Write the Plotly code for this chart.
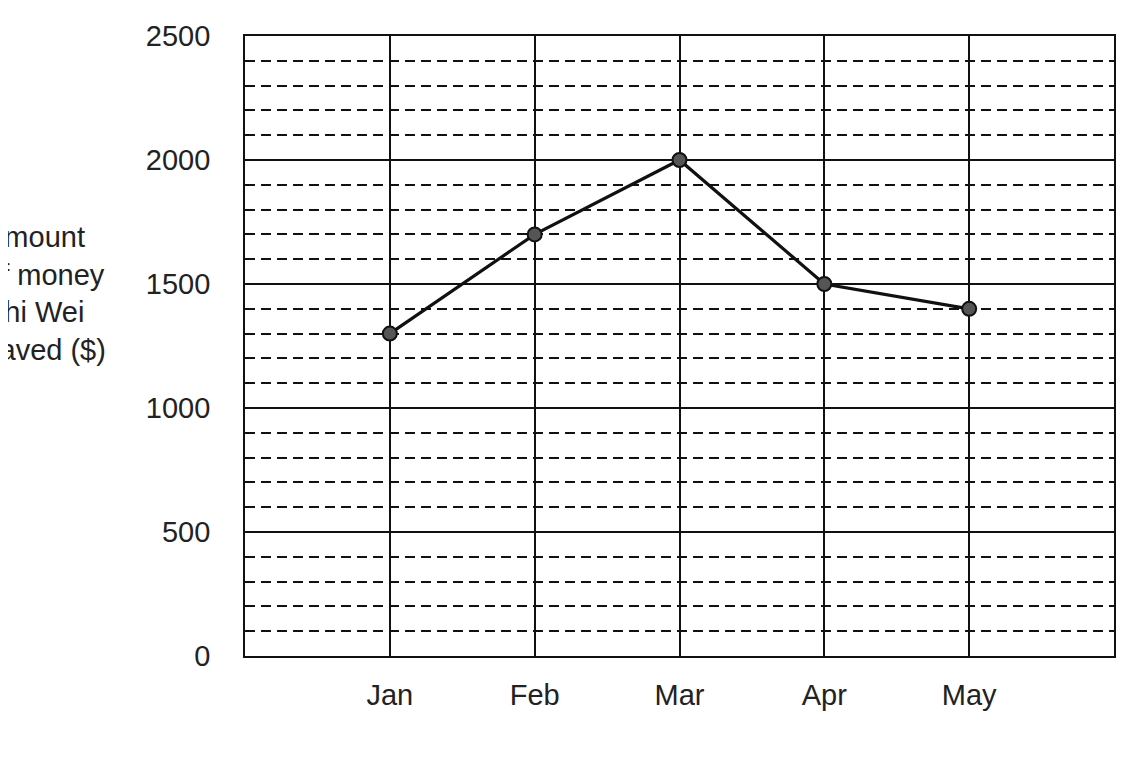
import plotly.graph_objects as go

months = ["Jan", "Feb", "Mar", "Apr", "May"]
saved = [1300, 1700, 2000, 1500, 1400]
y_ticks = [0, 500, 1000, 1500, 2000, 2500]
y_title_lines = ["Amount", "of money", "Shi Wei", "saved ($)"]

FONT = "Liberation Sans, Arial, sans-serif"

fig = go.Figure()
fig.add_trace(go.Scatter(
    x=months, y=saved, mode="lines+markers",
    line=dict(color="#111111", width=3.2),
    marker=dict(size=14, color="#555555", line=dict(color="#111111", width=2)),
    showlegend=False, cliponaxis=False,
))

fig.update_layout(
    width=1145, height=759,
    margin=dict(l=237, r=39, t=25, b=111),
    paper_bgcolor="white", plot_bgcolor="white",
    font=dict(family=FONT, size=29, color="#222222"),
    xaxis=dict(
        type="category", range=[-1, 5],
        showgrid=True, gridcolor="#111111", gridwidth=1.8,
        showline=True, linecolor="#111111", linewidth=1.8, mirror=True,
        ticks="", ticklabelstandoff=12,
        tickfont=dict(size=29, family=FONT, color="#222222"),
        zeroline=False,
    ),
    yaxis=dict(
        range=[0, 2500], tickvals=y_ticks,
        showgrid=True, gridcolor="#111111", gridwidth=1.8,
        minor=dict(dtick=100, tick0=0, showgrid=True, gridcolor="#111111",
                   gridwidth=1.6, griddash="10px,6px", ticks=""),
        showline=True, linecolor="#111111", linewidth=1.8, mirror=True,
        ticks="", ticklabelstandoff=27,
        tickfont=dict(size=29, family=FONT, color="#222222"),
        zeroline=False,
    ),
    annotations=[dict(
        text="<br>".join(y_title_lines),
        xref="paper", yref="paper", x=0, y=0.584,
        xanchor="left", yanchor="middle", xshift=-262, align="left",
        showarrow=False, font=dict(family=FONT, size=29, color="#222222"),
    )],
)

fig.write_html("out.html")
